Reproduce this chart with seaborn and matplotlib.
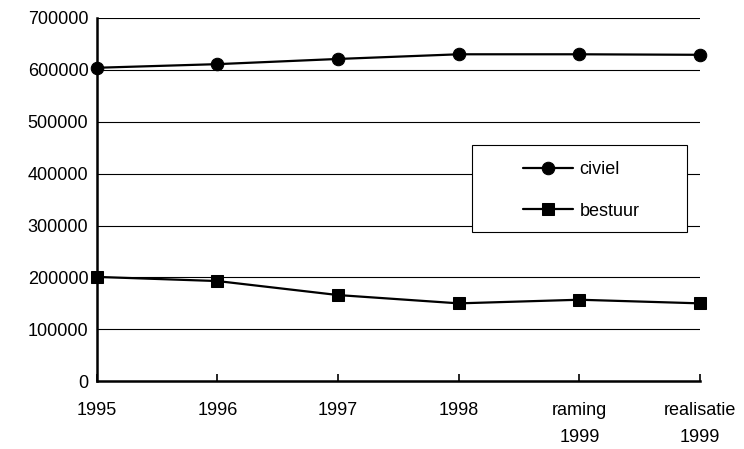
import pandas as pd
import numpy as np
import matplotlib
matplotlib.use('Agg')
import matplotlib.pyplot as plt
from matplotlib.patches import Rectangle
import seaborn as sns

# data
years = ['1995', '1996', '1997', '1998', 'raming\n1999', 'realisatie\n1999']
civiel = [604000, 611000, 621000, 630000, 630000, 629000]
bestuur = [201000, 193000, 166000, 150000, 157000, 150000]
yticks = [0, 100000, 200000, 300000, 400000, 500000, 600000, 700000]

df = pd.DataFrame({
    'jaar': years * 2,
    'waarde': civiel + bestuur,
    'soort': ['civiel'] * len(years) + ['bestuur'] * len(years),
})
df['pos'] = np.tile(np.arange(len(years)), 2)

sns.set_style('white')
plt.rcParams['font.family'] = ['Liberation Sans', 'DejaVu Sans']
plt.rcParams['text.color'] = 'black'
plt.rcParams['xtick.color'] = 'black'
plt.rcParams['ytick.color'] = 'black'

fig = plt.figure(figsize=(7.44, 4.49), dpi=100)
ax = fig.add_axes([0.130, 0.151, 0.811, 0.809])

sns.lineplot(data=df, x='pos', y='waarde', hue='soort', style='soort',
             palette={'civiel': 'black', 'bestuur': 'black'},
             markers={'civiel': 'o', 'bestuur': 's'},
             dashes={'civiel': '', 'bestuur': ''},
             markersize=9, linewidth=1.6, markeredgecolor='black',
             clip_on=False, ax=ax, zorder=5)

ax.set_xlim(0, len(years) - 1)
ax.set_ylim(0, 700000)
ax.set_yticks(yticks)
ax.set_yticklabels([str(v) for v in yticks], fontsize=13)
ax.set_xticks(range(len(years)))
ax.set_xticklabels(years, fontsize=13, linespacing=1.8)
ax.set_xlabel('')
ax.set_ylabel('')

for v in yticks[1:]:
    ax.axhline(v, color='black', linewidth=0.8, zorder=1)

ax.tick_params(axis='x', direction='in', length=5, width=1.2, pad=15, bottom=True)
ax.tick_params(axis='y', length=0, pad=6)
for side in ['top', 'right']:
    ax.spines[side].set_visible(False)
for side in ['left', 'bottom']:
    ax.spines[side].set_color('black')
    ax.spines[side].set_linewidth(1.8)

# legend box
box = Rectangle((0.622, 0.41), 0.356, 0.24, transform=ax.transAxes,
                facecolor='white', edgecolor='black', linewidth=0.8, zorder=3)
ax.add_patch(box)
handles, labels = ax.get_legend_handles_labels()
leg = ax.legend(handles, labels, loc='center', bbox_to_anchor=(0.803, 0.525),
                frameon=False, fontsize=13, handlelength=2.8, handletextpad=0.35,
                labelspacing=1.35, borderpad=0, borderaxespad=0)
leg.set_zorder(6)

plt.savefig('out.png', dpi=100)
